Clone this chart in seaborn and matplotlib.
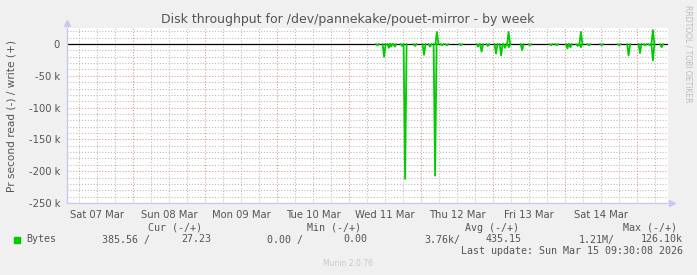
import numpy as np
import pandas as pd
import matplotlib
matplotlib.use("Agg")
import matplotlib.pyplot as plt
import seaborn as sns

# ---------------- data (hours since Sat 07 Mar 00:00) ----------------
day_labels = ["Sat 07 Mar", "Sun 08 Mar", "Mon 09 Mar", "Tue 10 Mar",
              "Wed 11 Mar", "Thu 12 Mar", "Fri 13 Mar", "Sat 14 Mar"]
label_hours = [12, 36, 60, 84, 108, 132, 156, 180]

read_hours = [105.5, 107.7, 109.3, 110.0, 111.3, 113.7, 114.7, 118.0, 121.0, 123.0,
              124.7, 127.0, 128.7, 133.3, 139.0, 140.2, 142.3, 145.0, 146.7, 148.0,
              149.3, 153.7, 156.3, 163.3, 165.3, 168.8, 169.8, 172.2, 173.3, 176.0,
              180.2, 186.0, 189.2, 193.0, 194.7, 196.3, 197.3, 200.2]
read_kbytes = [2, 20, 6, 4, 4, 3, 212, 3, 17, 4,
               207, 2, 2, 2, 4, 12, 3, 15, 18, 6,
               5, 9.5, 2, 2, 2, 7, 5, 3, 5, 2,
               2, 2, 18, 14, 2, 2, 26, 5]
write_hours = [125.3, 149.2, 173.3, 197.3]
write_kbytes = [19, 19, 19, 22]

y_ticks = [0, -50000, -100000, -150000, -200000, -250000]
y_tick_labels = ["0", "-50 k", "-100 k", "-150 k", "-200 k", "-250 k"]

x_start, x_end = 2.0, 202.33
y_min, y_max = -250000, 25200

# ---------------- build table ----------------
rows = []
for i, (h, v) in enumerate(zip(read_hours, read_kbytes)):
    for dh, f in ((-0.5, 0), (0.0, 1), (0.5, 0)):
        rows.append({"t": h + dh, "v": -v * 1000 * f, "ev": f"r{i}"})
for i, (h, v) in enumerate(zip(write_hours, write_kbytes)):
    for dh, f in ((-0.5, 0), (0.0, 1), (0.5, 0)):
        rows.append({"t": h + dh, "v": v * 1000 * f, "ev": f"w{i}"})
df = pd.DataFrame(rows)

sns.set_theme(style="white")
plt.rcParams["font.family"] = ["DejaVu Sans"]

W, H = 697, 275
fig = plt.figure(figsize=(W / 100, H / 100), dpi=100, facecolor="#F0F0F0")
L, R, T, B = 67, 668, 28, 203
ax = fig.add_axes([L / W, 1 - B / H, (R - L) / W, (B - T) / H])
ax.set_facecolor("white")

# grid
red, grey = "#E09A9A", "#BDBDBD"
dots = (0, (1, 1.6))
for h in range(6, 203, 6):
    ax.axvline(h, color=red if h % 24 == 0 else grey, lw=0.8, ls=dots, zorder=1)
for yv in range(-240000, 25000, 10000):
    if yv == 0:
        continue
    ax.axhline(yv, color=red if yv % 50000 == 0 else grey, lw=0.8, ls=dots, zorder=1)

ax.axhline(0, color="black", lw=0.9, zorder=2)

sns.lineplot(data=df, x="t", y="v", units="ev", estimator=None,
             color="#00CC00", lw=1.3, ax=ax, zorder=3, legend=False)

ax.set_xlim(x_start, x_end)
ax.set_ylim(y_min, y_max)
ax.set_xlabel("")
ax.set_ylabel("")
ax.set_xticks(label_hours)
ax.set_xticklabels(day_labels)
ax.set_yticks(y_ticks)
ax.set_yticklabels(y_tick_labels)
ax.tick_params(axis="both", length=0, labelsize=7.2, labelcolor="#555555")
ax.tick_params(axis="x", pad=5)
ax.tick_params(axis="y", pad=5)
ax.grid(False)

for s in ("top", "right"):
    ax.spines[s].set_visible(False)
for s in ("left", "bottom"):
    ax.spines[s].set_color("#C8C8F0")
    ax.spines[s].set_linewidth(1.0)
ax.plot([0], [1.03], marker="^", color="#C8C8F0", ms=4, transform=ax.transAxes, clip_on=False)
ax.plot([1.007], [0], marker=">", color="#C8C8F0", ms=4, transform=ax.transAxes, clip_on=False)

# texts
def fx(px):
    return px / W

def fy(py):
    return 1 - py / H

fig.text(fx(348), fy(19), "Disk throughput for /dev/pannekake/pouet-mirror - by week",
         ha="center", va="center", fontsize=9, color="#555555")
fig.text(fx(12), fy(116), "Pr second read (-) / write (+)", rotation=90,
         ha="center", va="center", fontsize=7.6, color="#555555")
fig.text(fx(688), fy(5), "RRDTOOL / TOBI OETIKER", rotation=-90,
         ha="center", va="top", fontsize=5.5, color="#BBBBBB")

mono = dict(family="DejaVu Sans Mono", fontsize=7.2, color="#555555", va="center")
fig.text(fx(148), fy(228), "Cur (-/+)", ha="left", **mono)
fig.text(fx(307), fy(228), "Min (-/+)", ha="left", **mono)
fig.text(fx(465), fy(228), "Avg (-/+)", ha="left", **mono)
fig.text(fx(623), fy(228), "Max (-/+)", ha="left", **mono)

fig.patches.append(plt.Rectangle((fx(14), fy(242.7)), 6 / W, 6 / H,
                                 transform=fig.transFigure, color="#00CC00"))
fig.text(fx(26.7), fy(239.5), "Bytes", ha="left", **mono)
fig.text(fx(150), fy(239.5), "385.56 /", ha="right", **mono)
fig.text(fx(211), fy(239.5), "27.23", ha="right", **mono)
fig.text(fx(303), fy(239.5), "0.00 /", ha="right", **mono)
fig.text(fx(367), fy(239.5), "0.00", ha="right", **mono)
fig.text(fx(460), fy(239.5), "3.76k/", ha="right", **mono)
fig.text(fx(522), fy(239.5), "435.15", ha="right", **mono)
fig.text(fx(615), fy(239.5), "1.21M/", ha="right", **mono)
fig.text(fx(683), fy(239.5), "126.10k", ha="right", **mono)
fig.text(fx(683), fy(251), "Last update: Sun Mar 15 09:30:08 2026", ha="right", **mono)
fig.text(fx(348), fy(264), "Munin 2.0.76", ha="center", va="center",
         fontsize=5.5, color="#C8C8C8")

fig.savefig("out.png", dpi=100, facecolor=fig.get_facecolor())
